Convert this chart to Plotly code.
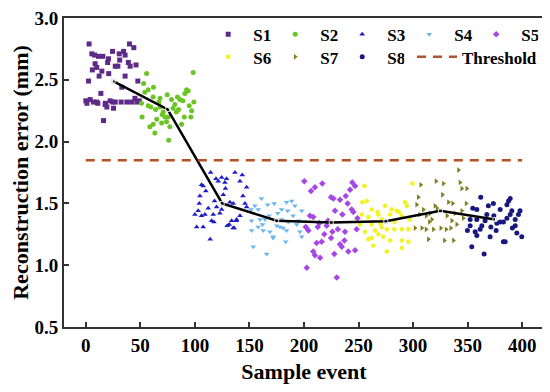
import plotly.graph_objects as go

# ---------------- data ----------------
s1_x = [3, 40, 24.5, 5.5, 34.6, 8, 11.6, 15.6, 36, 30.6, 20.8, 20, 8.5, 27, 29.4, 40.6, 46, 10, 14.7, 12.2,
        36, 2.5, 47.7, 13.8, 0, 4, 7, 10, 1, 17.7, 19.3, 22.3, 24.5, 27, 32.4, 37.6, 42, 45, 46.8, 25.4, 16.2,
        31, 44, 6, 18, 39, 33, 21, 49, 11]
s1_y = [2.79, 2.79, 2.73, 2.71, 2.73, 2.70, 2.69, 2.69, 2.70, 2.71, 2.67, 2.64, 2.63, 2.61, 2.61, 2.61, 2.62, 2.60, 2.57, 2.53,
        2.53, 2.49, 2.49, 2.39, 2.33, 2.34, 2.32, 2.32, 2.31, 2.30, 2.28, 2.33, 2.32, 2.32, 2.32, 2.32, 2.32, 2.35, 2.32, 2.27, 2.17,
        2.66, 2.76, 2.58, 2.31, 2.64, 2.44, 2.55, 2.33, 2.31]

s2_x = [55.7, 98.4, 57.2, 54, 61.7, 68, 67, 74.6, 92.4, 90.8, 93.8, 84, 86.2, 78.6, 81.6, 80, 51, 57.2, 59.6, 68,
        64, 94.8, 97, 71, 72.5, 75.5, 51.6, 65, 69.5, 74, 77, 58.7, 61.7, 90.2, 96.3, 87.8, 63.3, 76, 89, 83,
        53, 99, 70, 85, 62]
s2_y = [2.55, 2.56, 2.42, 2.40, 2.36, 2.35, 2.32, 2.38, 2.42, 2.39, 2.41, 2.36, 2.34, 2.34, 2.30, 2.27, 2.31, 2.29, 2.28, 2.28,
        2.26, 2.29, 2.25, 2.24, 2.20, 2.20, 2.20, 2.18, 2.15, 2.16, 2.12, 2.12, 2.14, 2.20, 2.20, 2.14, 2.07, 2.01, 2.33, 2.24,
        2.47, 2.32, 2.22, 2.26, 2.44]

s3_x = [114.4, 136.7, 143.4, 119.3, 124.5, 129, 121.4, 141.3, 127.5, 107.6, 106.1, 147.4, 126, 104.6, 104, 132.1, 135.1, 145.9, 112.2, 119.9,
        124.5, 100, 106.1, 109.2, 116.8, 122.9, 141.3, 138.2, 115.3, 117.4, 133.7, 131.5, 129.6, 101.6, 107.6, 135.1, 114, 147.4, 138, 136,
        110, 128, 103, 144, 118]
s3_y = [1.75, 1.75, 1.73, 1.70, 1.71, 1.70, 1.68, 1.68, 1.67, 1.64, 1.65, 1.63, 1.57, 1.56, 1.50, 1.51, 1.50, 1.50, 1.46, 1.47,
        1.45, 1.41, 1.40, 1.41, 1.41, 1.42, 1.40, 1.37, 1.36, 1.35, 1.36, 1.33, 1.32, 1.31, 1.31, 1.30, 1.21, 1.47, 1.36, 1.30,
        1.60, 1.62, 1.44, 1.56, 1.52]

s4_x = [161, 166.7, 172.7, 155, 184, 188.7, 191.7, 151.4, 158, 179.5, 185, 197.9, 152, 159.6, 164.2, 179.5, 185.6, 193.3, 152, 162.6,
        168.8, 178, 175, 184, 196.3, 197.9, 171.8, 153.5, 165.8, 183.2, 158, 171.6, 190, 176, 162, 195, 181, 168]
s4_y = [1.54, 1.49, 1.50, 1.48, 1.51, 1.52, 1.48, 1.45, 1.45, 1.45, 1.44, 1.44, 1.36, 1.37, 1.37, 1.37, 1.35, 1.33, 1.28, 1.28,
        1.27, 1.31, 1.32, 1.28, 1.27, 1.23, 1.23, 1.15, 1.09, 1.19, 1.31, 1.22, 1.40, 1.42, 1.33, 1.36, 1.30, 1.40]

s5_x = [200.3, 210, 216.8, 206.4, 244.3, 246.8, 242.2, 224.8, 227, 233, 238.3, 228.4, 235.2, 243.7, 245.2, 205.5, 208.5, 201.6, 204, 212.6,
        220.8, 226, 231, 237.6, 248.3, 218.6, 224.8, 237, 211.6, 216.2, 233, 234.6, 208.5, 210, 214.7, 227.8, 240.6, 246.8, 202.5, 230,
        222, 249, 214, 240]
s5_y = [1.68, 1.63, 1.66, 1.60, 1.67, 1.64, 1.61, 1.55, 1.54, 1.53, 1.56, 1.44, 1.41, 1.45, 1.43, 1.40, 1.39, 1.31, 1.28, 1.31,
        1.32, 1.27, 1.29, 1.27, 1.29, 1.25, 1.22, 1.20, 1.18, 1.19, 1.17, 1.15, 1.11, 1.08, 1.06, 1.09, 1.11, 1.12, 0.98, 0.90,
        1.36, 1.38, 1.34, 1.50]

s6_x = [255.4, 299.4, 253.5, 257.5, 274.3, 292.6, 294.2, 262.1, 267.6, 268.2, 280.4, 285, 287, 278.9, 252.9, 259, 289.6, 271.3, 251.3, 262.1,
        271.3, 275.9, 282.8, 289.6, 295.7, 265.1, 268.2, 259, 262.1, 272.7, 278.9, 289.6, 295.7, 263.5, 289.6, 275.9, 283, 297, 256, 270]
s6_y = [1.64, 1.66, 1.51, 1.52, 1.48, 1.51, 1.48, 1.45, 1.43, 1.41, 1.45, 1.44, 1.43, 1.41, 1.41, 1.39, 1.40, 1.37, 1.33, 1.33,
        1.31, 1.29, 1.29, 1.29, 1.29, 1.28, 1.25, 1.21, 1.22, 1.23, 1.20, 1.20, 1.19, 1.16, 1.14, 1.11, 1.35, 1.37, 1.27, 1.34]

s7_x = [341.6, 307, 321, 327.8, 343, 344.6, 349.2, 326.9, 304.8, 332.4, 336.3, 348.6, 303.3, 309.4, 315.6, 317.2, 315, 331, 338.5, 344.6,
        335.5, 301.8, 308, 311.9, 318.6, 325.4, 330.3, 334.5, 314, 328.7, 337, 322, 312, 346, 306, 340, 320]
s7_y = [1.77, 1.65, 1.68, 1.66, 1.67, 1.62, 1.62, 1.57, 1.55, 1.51, 1.50, 1.50, 1.49, 1.45, 1.42, 1.37, 1.35, 1.40, 1.42, 1.44,
        1.36, 1.30, 1.30, 1.29, 1.29, 1.30, 1.29, 1.30, 1.21, 1.20, 1.20, 1.46, 1.40, 1.38, 1.41, 1.33, 1.48]

s8_x = [362, 389, 373.6, 387.5, 386, 369, 354.7, 358.4, 379.8, 390.5, 389, 396.6, 367.6, 352.3, 358.4, 386, 393.6, 376.8, 379.8, 382.8,
        352.3, 363, 361.5, 371.3, 393.6, 349.8, 356.9, 376.1, 395.1, 358.4, 370.6, 382.8, 353.8, 365.1, 399.6, 398, 384.4, 374, 366, 391]
s8_y = [1.55, 1.54, 1.50, 1.52, 1.49, 1.48, 1.46, 1.45, 1.45, 1.44, 1.41, 1.41, 1.41, 1.37, 1.37, 1.38, 1.37, 1.34, 1.35, 1.35,
        1.32, 1.32, 1.29, 1.31, 1.32, 1.28, 1.27, 1.28, 1.26, 1.24, 1.23, 1.19, 1.15, 1.09, 1.23, 1.44, 1.19, 1.40, 1.36, 1.30]

mean_x = [25, 75, 125, 175, 225, 275, 325, 375]
mean_y = [2.49, 2.26, 1.50, 1.36, 1.345, 1.355, 1.44, 1.37]

threshold_x = [0, 400]
threshold_y = [1.85, 1.85]

x_ticks = [0, 50, 100, 150, 200, 250, 300, 350, 400]
y_ticks = [0.5, 1.0, 1.5, 2.0, 2.5, 3.0]
y_tick_labels = ["0.5", "1.0", "1.5", "2.0", "2.5", "3.0"]

# ---------------- styles ----------------
series = [
    ("S1", s1_x, s1_y, "square", "#5E2A88", "legend"),
    ("S2", s2_x, s2_y, "circle", "#6CC424", "legend"),
    ("S3", s3_x, s3_y, "triangle-up", "#1C1CC8", "legend"),
    ("S4", s4_x, s4_y, "triangle-down", "#6CB6F0", "legend"),
    ("S5", s5_x, s5_y, "diamond", "#A646E6", "legend"),
    ("S6", s6_x, s6_y, "hexagon", "#F2F226", "legend2"),
    ("S7", s7_x, s7_y, "triangle-right", "#7E7E1E", "legend2"),
    ("S8", s8_x, s8_y, "circle", "#18187E", "legend2"),
]

FONT = "Liberation Serif"

fig = go.Figure()

for name, xs, ys, sym, col, lg in series:
    fig.add_trace(go.Scatter(
        x=xs, y=ys, mode="markers", name=name, legend=lg,
        marker=dict(symbol=sym, size=5, color=col, line=dict(width=0)),
    ))

fig.add_trace(go.Scatter(
    x=mean_x, y=mean_y, mode="lines+markers", showlegend=False,
    line=dict(color="black", width=2.5),
    marker=dict(symbol="square-open", size=4, color="#dddddd", line=dict(width=1)),
))

fig.add_trace(go.Scatter(
    x=threshold_x, y=threshold_y, mode="lines", name="Threshold", legend="legend3",
    line=dict(color="#B4532A", width=2.5, dash="9px,7px"),
))

axis_common = dict(
    showline=True, linecolor="#333333", linewidth=2, mirror=True,
    ticks="inside", ticklen=5, tickwidth=1.5, tickcolor="#333333",
    showgrid=False, zeroline=False, ticklabeloverflow="allow",
    tickfont=dict(family=FONT, size=19, color="black", weight="bold"),
)

legend_common = dict(orientation="h", xanchor="left", yanchor="top",
                     entrywidth=12, itemwidth=40, itemsizing="trace",
                     bgcolor="rgba(255,255,255,0)",
                     font=dict(family=FONT, size=17, weight="bold", color="black"),
                     tracegroupgap=0)

# page body adds an 8 px offset, so the figure is 8 px smaller and margins shifted
fig.update_layout(
    width=542, height=384,
    margin=dict(l=56, r=6, t=10, b=65, autoexpand=False),
    paper_bgcolor="white", plot_bgcolor="white",
    font=dict(family=FONT, color="black"),
    xaxis=dict(range=[-20, 420], tickvals=x_ticks,
               title=dict(text="<b>Sample event</b>", font=dict(family=FONT, size=22), standoff=9),
               **axis_common),
    yaxis=dict(range=[0.5, 3.0], tickvals=y_ticks, ticktext=y_tick_labels,
               title=dict(text="<b>Reconstruction error (mm)</b>", font=dict(family=FONT, size=22), standoff=8),
               **axis_common),
    legend=dict(x=0.29, y=1.004, **legend_common),
    legend2=dict(x=0.29, y=0.931, **legend_common),
    legend3=dict(x=0.725, y=0.931, **{**legend_common, "entrywidth": 0}),
)

fig.write_html("out.html")
